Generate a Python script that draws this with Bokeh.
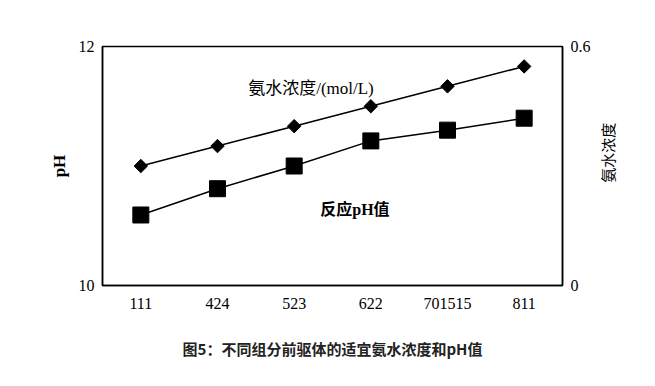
import math
from bokeh.plotting import figure
from bokeh.layouts import row
from bokeh.models import FactorRange, Range1d, LinearAxis, FixedTicker, Label, Title
from bokeh.embed import file_html
from bokeh.resources import INLINE

categories = ["111", "424", "523", "622", "701515", "811"]
ph_values = [10.59, 10.81, 11.00, 11.21, 11.30, 11.40]
conc_values = [0.30, 0.35, 0.40, 0.45, 0.50, 0.55]
ph_ticks = [10, 12]
conc_ticks = [0, 0.6]

SERIF = "Liberation Serif, Noto Sans CJK SC"
H = 382

p = figure(x_range=FactorRange(*categories), y_range=Range1d(10, 12),
           width=595, height=H, output_backend="svg", toolbar_location=None,
           min_border_left=102, min_border_right=33, min_border_top=46, min_border_bottom=96)
p.extra_y_ranges = {"conc": Range1d(0, 0.6)}

p.grid.visible = False
p.outline_line_color = "black"
p.outline_line_width = 1.5

yl = p.yaxis[0]
yl.ticker = FixedTicker(ticks=ph_ticks)
yl.axis_label = "pH"
yl.axis_label_text_font = SERIF
yl.axis_label_text_font_style = "bold"
yl.axis_label_text_font_size = "17px"
yl.axis_label_standoff = 7

yr = LinearAxis(y_range_name="conc", ticker=FixedTicker(ticks=conc_ticks),
                major_label_overrides={0: "0", 0.6: "0.6"})
p.add_layout(yr, "right")

for ax in [p.xaxis[0], yl, yr]:
    ax.axis_line_color = "black"
    ax.axis_line_width = 1.5
    ax.major_tick_line_color = None
    ax.minor_tick_line_color = None
    ax.major_tick_out = 0
    ax.major_tick_in = 0
    ax.major_label_text_font = SERIF
    ax.major_label_text_font_size = "16px"
    ax.major_label_text_color = "black"
    ax.major_label_standoff = 8
    ax.axis_label_text_color = "black"
p.xaxis[0].major_label_standoff = 12

# pH series (squares)
p.line(categories, ph_values, line_color="black", line_width=1.5)
p.scatter(categories, ph_values, marker="square", size=16, color="black")

# ammonia concentration series (diamonds)
p.line(categories, conc_values, line_color="black", line_width=1.5, y_range_name="conc")
p.scatter(categories, conc_values, marker="square", angle=math.pi / 4, size=9.5,
          color="black", y_range_name="conc")

p.add_layout(Label(x=1.9, y=11.65, text="氨水浓度/(mol/L)", text_font=SERIF,
                   text_font_size="17px", text_align="left", text_baseline="middle",
                   text_color="black"))
p.add_layout(Label(x=2.84, y=10.633, text="反应pH值", text_font=SERIF,
                   text_font_style="bold",
                   text_font_size="16px", text_align="left", text_baseline="middle",
                   text_color="black"))

caption = Title(text="图5：不同组分前驱体的适宜氨水浓度和pH值", align="center",
                text_font="Noto Sans CJK SC", text_font_style="bold",
                text_font_size="15px", text_color="#222222", standoff=48)
p.add_layout(caption, "below")

# right-hand axis title, reading bottom-to-top
side = figure(width=44, height=H, output_backend="svg", toolbar_location=None,
              x_range=Range1d(0, 44), y_range=Range1d(0, H),
              x_axis_type=None, y_axis_type=None, min_border=0)
side.outline_line_color = None
side.grid.visible = False
side.add_layout(Label(x=13, y=H - 170, text="氨水浓度", text_font=SERIF,
                      text_font_size="15px", text_align="center", text_baseline="middle",
                      angle=math.pi / 2, text_color="black"))

layout = row(p, side, spacing=0)
open("out.html", "w").write(file_html(layout, INLINE))
